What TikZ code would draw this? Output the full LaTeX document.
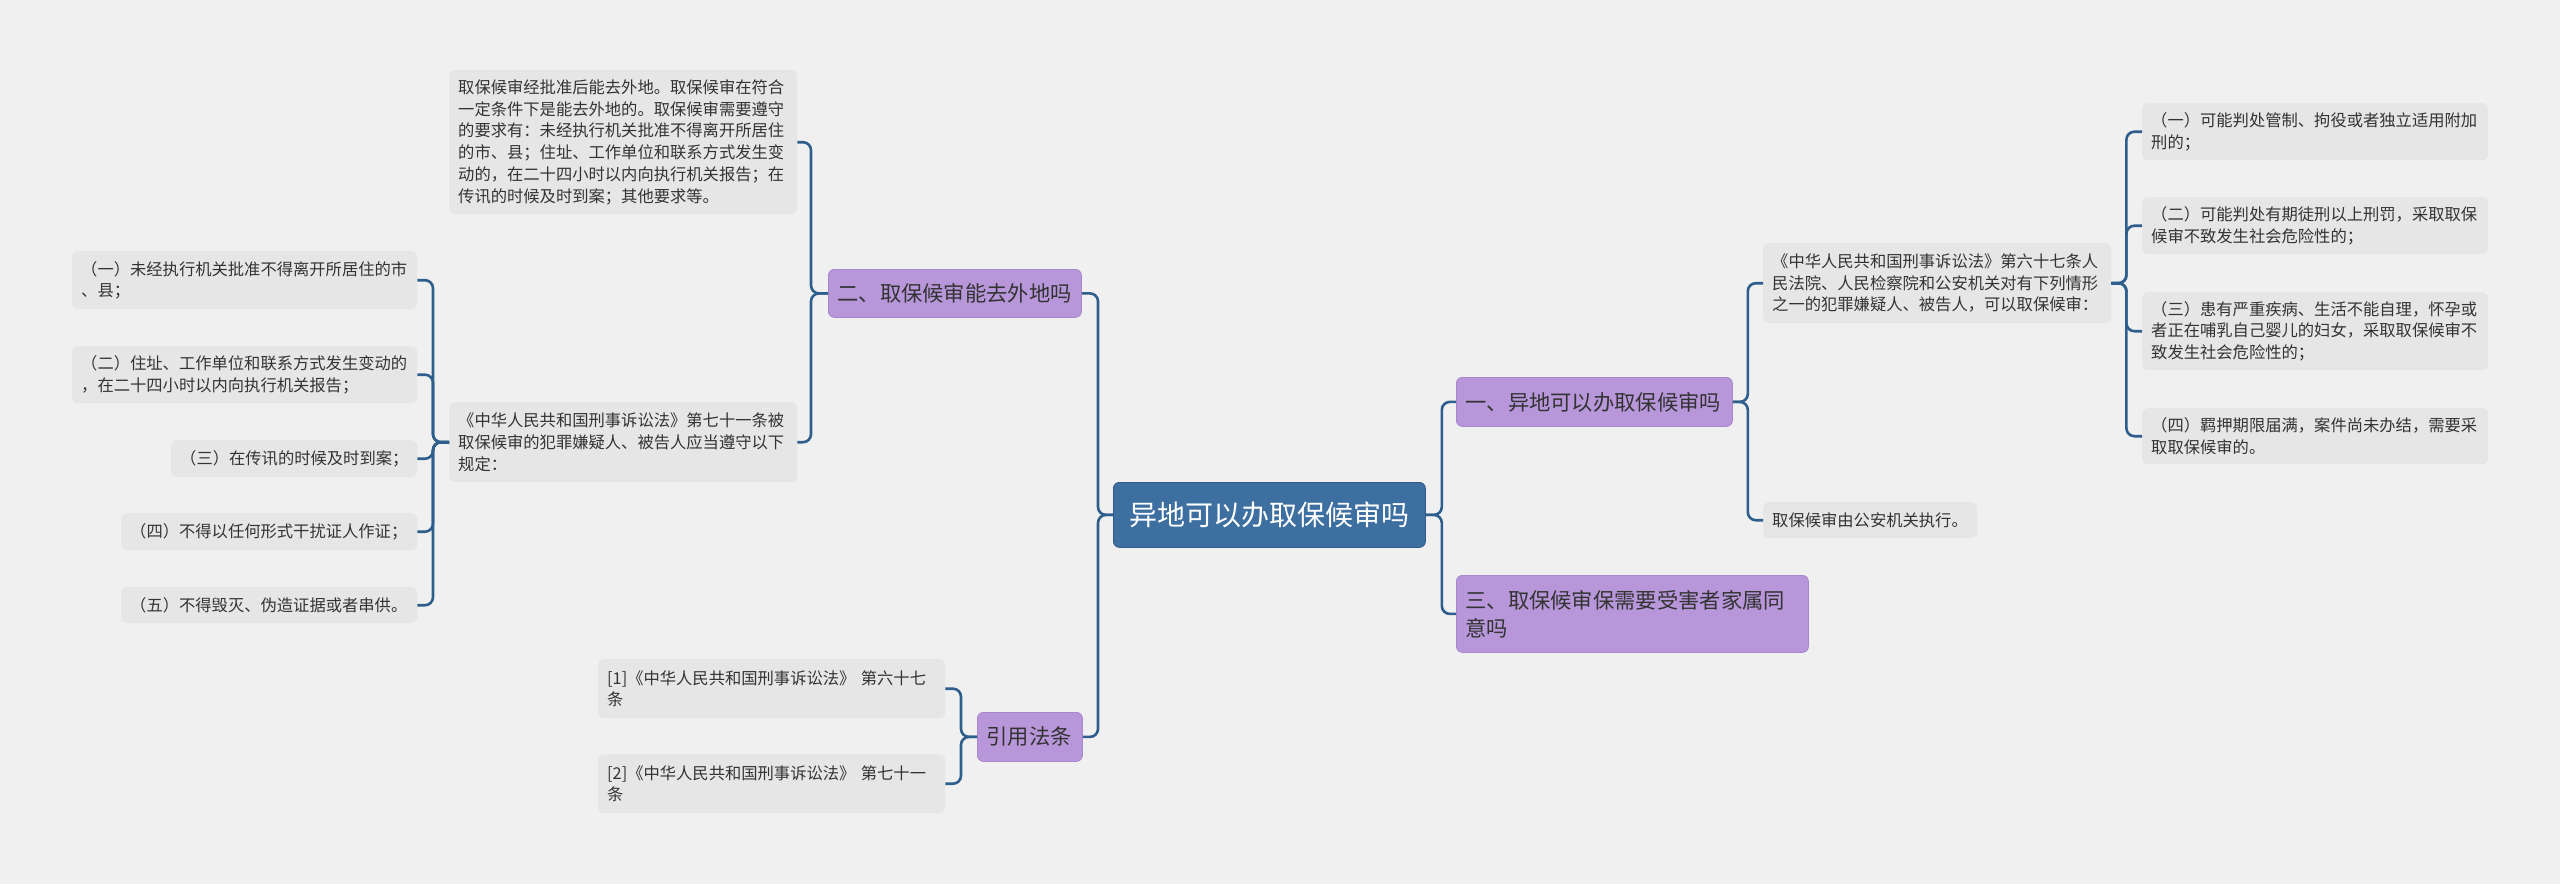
\documentclass[tikz,border=0pt]{standalone}
\usepackage{fontspec}
\setmainfont{Noto Sans CJK SC}
\definecolor{bgc}{HTML}{F0F0F0}
\definecolor{leaffill}{HTML}{E6E6E6}
\definecolor{purp}{HTML}{B796D9}
\definecolor{purpd}{HTML}{A886CC}
\definecolor{rootc}{HTML}{3D6FA1}
\definecolor{rootd}{HTML}{30598A}
\definecolor{linec}{HTML}{2E5E8C}
\definecolor{txt}{HTML}{333333}
\newcommand\bx[7]{%
  \pgfmathsetmacro\bw{#4-#2}\pgfmathsetmacro\bh{#5-#3}\pgfmathsetmacro\tw{\bw-18}%
  \node[#6, anchor=north west, minimum width=\bw pt, minimum height=\bh pt, text width=\tw pt] (#1) at (#2,#3) {#7};}
\begin{document}
\begin{tikzpicture}[x=1pt,y=-1pt,
  leaf/.style={fill=leaffill, rounded corners=6pt, inner xsep=9pt, inner ysep=0pt, align=left, text=txt, font=\fontsize{16.3}{21.7}\selectfont},
  sub/.style={fill=purp, draw=purpd, line width=0.8pt, rounded corners=6pt, inner xsep=9pt, inner ysep=0pt, align=left, text=txt, font=\fontsize{21.3}{28}\selectfont},
  rootst/.style={fill=rootc, draw=rootd, line width=0.8pt, rounded corners=6pt, inner xsep=9pt, inner ysep=0pt, align=center, text=white, font=\fontsize{28}{34}\selectfont},
  conn/.style={draw=linec, line width=2.6pt, rounded corners=8pt}]
\fill[bgc] (0,0) rectangle (2560,884);
\useasboundingbox (0,0) rectangle (2560,884);

% root and main branches
\bx{root}{1113}{482}{1425}{547}{rootst}{异地可以办取保候审吗}
\bx{b1}{1456}{377}{1732}{426}{sub}{一、异地可以办取保候审吗}
\bx{b3}{1456}{575}{1808}{652}{sub}{三、取保候审保需要受害者家属同\\意吗}
\bx{b2}{828}{269}{1081}{317}{sub}{二、取保候审能去外地吗}
\bx{b4}{977}{712}{1082}{761}{sub}{引用法条}

% left side leaves
\bx{L0}{449}{70}{797}{214}{leaf}{取保候审经批准后能去外地。取保候审在符合\\一定条件下是能去外地的。取保候审需要遵守\\的要求有：未经执行机关批准不得离开所居住\\的市、县；住址、工作单位和联系方式发生变\\动的，在二十四小时以内向执行机关报告；在\\传讯的时候及时到案；其他要求等。}
\bx{L1}{449}{402}{797}{482}{leaf}{《中华人民共和国刑事诉讼法》第七十一条被\\取保候审的犯罪嫌疑人、被告人应当遵守以下\\规定：}
\bx{LL1}{72}{251}{417}{309}{leaf}{（一）未经执行机关批准不得离开所居住的市\\、县；}
\bx{LL2}{72}{346}{417}{403}{leaf}{（二）住址、工作单位和联系方式发生变动的\\，在二十四小时以内向执行机关报告；}
\bx{LL3}{171}{440}{417}{477}{leaf}{（三）在传讯的时候及时到案；}
\bx{LL4}{121}{513}{417}{550}{leaf}{（四）不得以任何形式干扰证人作证；}
\bx{LL5}{121}{587}{417}{623}{leaf}{（五）不得毁灭、伪造证据或者串供。}
\bx{R1}{598}{659}{945}{718}{leaf}{[1]《中华人民共和国刑事诉讼法》 第六十七\\条}
\bx{R2}{598}{754}{945}{813}{leaf}{[2]《中华人民共和国刑事诉讼法》 第七十一\\条}

% right side leaves
\bx{A}{1763}{243}{2111}{323}{leaf}{《中华人民共和国刑事诉讼法》第六十七条人\\民法院、人民检察院和公安机关对有下列情形\\之一的犯罪嫌疑人、被告人，可以取保候审：}
\bx{B}{1763}{502}{1977}{538}{leaf}{取保候审由公安机关执行。}
\bx{C1}{2142}{103}{2488}{160}{leaf}{（一）可能判处管制、拘役或者独立适用附加\\刑的；}
\bx{C2}{2142}{197}{2488}{254}{leaf}{（二）可能判处有期徒刑以上刑罚，采取取保\\候审不致发生社会危险性的；}
\bx{C3}{2142}{292}{2488}{370}{leaf}{（三）患有严重疾病、生活不能自理，怀孕或\\者正在哺乳自己婴儿的妇女，采取取保候审不\\致发生社会危险性的；}
\bx{C4}{2142}{408}{2488}{464}{leaf}{（四）羁押期限届满，案件尚未办结，需要采\\取取保候审的。}

% connectors
\foreach \c in {b1,b3} \draw[conn] (root.east) -- ++(16,0) |- (\c.west);
\foreach \c in {b2,b4} \draw[conn] (root.west) -- ++(-15,0) |- (\c.east);
\foreach \c in {L0,L1} \draw[conn] (b2.west) -- ++(-17,0) |- (\c.east);
\foreach \c in {LL1,LL2,LL3,LL4,LL5} \draw[conn] (L1.west) -- ++(-16,0) |- (\c.east);
\foreach \c in {R1,R2} \draw[conn] (b4.west) -- ++(-16,0) |- (\c.east);
\foreach \c in {A,B} \draw[conn] (b1.east) -- ++(15,0) |- (\c.west);
\foreach \c in {C1,C2,C3,C4} \draw[conn] (A.east) -- ++(15,0) |- (\c.west);
\end{tikzpicture}
\end{document}
